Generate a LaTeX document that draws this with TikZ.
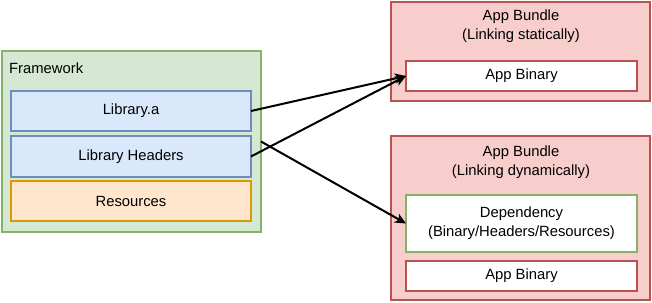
\documentclass[tikz,border=0pt]{standalone}
\usepackage{fontspec}
\setmainfont{Liberation Sans}
\usetikzlibrary{arrows.meta}
\definecolor{grfill}{HTML}{D5E8D4}
\definecolor{grline}{HTML}{82B366}
\definecolor{blfill}{HTML}{DAE8FC}
\definecolor{blline}{HTML}{6C8EBF}
\definecolor{orfill}{HTML}{FFE6CC}
\definecolor{orline}{HTML}{D79B00}
\definecolor{rdfill}{HTML}{F8CECC}
\definecolor{rdline}{HTML}{B85450}
\tikzset{
  box/.style={rectangle, draw, line width=1.5pt, inner sep=0pt, outer sep=0pt, align=center,
    font=\fontsize{14.8}{19}\selectfont},
  greenbox/.style={box, fill=grfill, draw=grline},
  bluebox/.style={box, fill=blfill, draw=blline},
  orangebox/.style={box, fill=orfill, draw=orline},
  redbox/.style={box, fill=rdfill, draw=rdline},
  whitered/.style={box, fill=white, draw=rdline},
  whitegreen/.style={box, fill=white, draw=grline},
  lbl/.style={inner sep=0pt, align=center, font=\fontsize{14.8}{19}\selectfont},
  conn/.style={line width=2pt, -{Stealth[length=11pt,width=10pt,inset=3pt]}}
}
\begin{document}
\begin{tikzpicture}[x=1pt,y=-1pt]
\useasboundingbox (0,0) rectangle (652,302);
% Framework
\node[greenbox, minimum width=259, minimum height=181] (fw) at (131.5,141.5) {};
\node[lbl, anchor=west] (fwl) at (9,68) {Framework};
\node[bluebox, minimum width=240, minimum height=40] (lib) at (131,111) {Library.a};
\node[bluebox, minimum width=240, minimum height=41] (hdr) at (131,156.5) {Library Headers};
\node[orangebox, minimum width=240, minimum height=40] (res) at (131,201) {Resources};
% Bundle 1
\node[redbox, minimum width=259, minimum height=99] (b1) at (520.5,51.5) {};
\node[lbl] (b1l) at (521,26.5) {App Bundle\\(Linking statically)};
\node[whitered, minimum width=231, minimum height=30] (ab1) at (521.5,76) {App Binary};
% Bundle 2
\node[redbox, minimum width=259, minimum height=164] (b2) at (520.5,218) {};
\node[lbl] (b2l) at (521,162.5) {App Bundle\\(Linking dynamically)};
\node[whitegreen, minimum width=231, minimum height=57] (dep) at (521.5,223.5) {Dependency\\(Binary/Headers/Resources)};
\node[whitered, minimum width=231, minimum height=30] (ab2) at (521.5,276) {App Binary};
% connectors
\draw[conn] (lib.east) -- (ab1.west);
\draw[conn] (hdr.east) -- (ab1.west);
\draw[conn] (fw.east) -- (dep.west);
\end{tikzpicture}
\end{document}
